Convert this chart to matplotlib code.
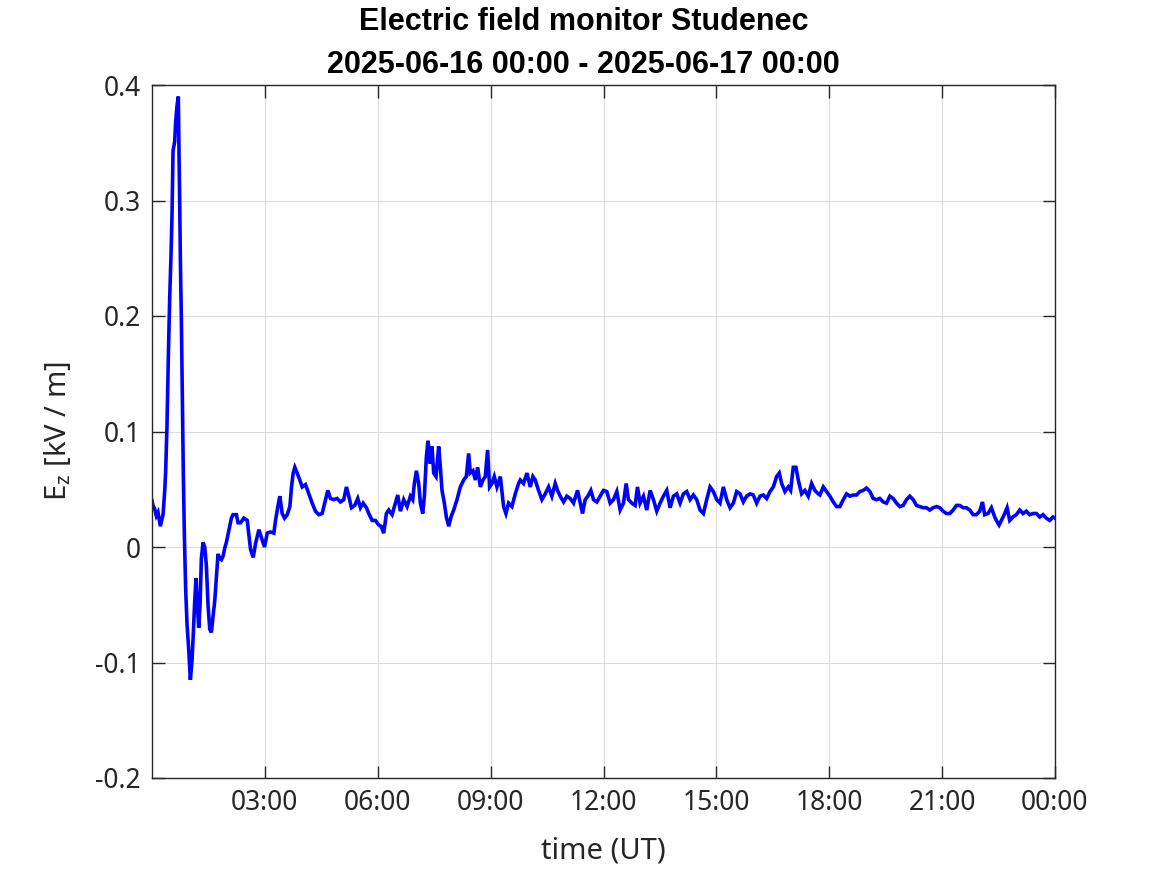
import matplotlib
matplotlib.use("Agg")
import matplotlib.pyplot as plt
import numpy as np

# ---- data (hours UT, Ez in kV/m) ----
hours_a = [0.000, 0.027, 0.071, 0.115, 0.160, 0.222, 0.293, 0.337, 0.363, 0.399,
           0.434, 0.470, 0.505, 0.532, 0.559, 0.603, 0.629, 0.665, 0.700, 0.718,
           0.736, 0.754, 0.780, 0.807, 0.833, 0.860, 0.895, 0.931, 0.975, 1.020,
           1.064, 1.099, 1.135, 1.170, 1.206, 1.241, 1.277, 1.312, 1.356, 1.401,
           1.445, 1.489, 1.534, 1.578, 1.622, 1.667, 1.711, 1.755, 1.800, 1.844,
           1.888, 1.933, 1.977, 2.021, 2.066, 2.110, 2.154, 2.199, 2.243, 2.287]
ez_a = [0.040, 0.036, 0.033, 0.027, 0.030, 0.018, 0.028, 0.048, 0.065, 0.106,
        0.164, 0.215, 0.253, 0.287, 0.343, 0.351, 0.368, 0.382, 0.390, 0.340,
        0.300, 0.249, 0.198, 0.130, 0.062, 0.011, -0.037, -0.067, -0.088, -0.115,
        -0.098, -0.074, -0.047, -0.027, -0.050, -0.070, -0.050, -0.010, 0.004, 0.000,
        -0.016, -0.050, -0.071, -0.074, -0.060, -0.047, -0.027, -0.006, -0.010, -0.011,
        -0.008, -0.001, 0.004, 0.011, 0.018, 0.025, 0.028, 0.028, 0.028, 0.021]

hours_b = [2.354, 2.442, 2.531, 2.619, 2.690, 2.752, 2.841, 2.929, 2.991, 3.062,
           3.150, 3.239, 3.283, 3.345, 3.398, 3.460, 3.522, 3.593, 3.664, 3.708,
           3.752, 3.796, 3.858, 3.929, 3.991, 4.080, 4.168, 4.257, 4.345, 4.434,
           4.522, 4.611, 4.673, 4.743, 4.832, 4.920, 5.009, 5.097, 5.168, 5.230,
           5.301, 5.389, 5.469, 5.540, 5.611, 5.699, 5.761, 5.850, 5.938, 6.027,
           6.088, 6.159, 6.230, 6.292, 6.381, 6.469, 6.531, 6.602, 6.690, 6.779,
           6.867, 6.929, 6.973, 7.027, 7.088, 7.133, 7.195, 7.239, 7.292, 7.336,
           7.398, 7.442, 7.487, 7.549, 7.619, 7.664, 7.708, 7.770, 7.823, 7.885,
           7.947, 8.018, 8.106, 8.195, 8.283, 8.354, 8.416, 8.460, 8.531, 8.593,
           8.655, 8.726, 8.796, 8.858, 8.920, 8.973, 9.035, 9.097, 9.168, 9.257,
           9.345, 9.407, 9.478, 9.566, 9.655, 9.743]
ez_b = [0.021, 0.025, 0.023, -0.002, -0.009, 0.003, 0.015, 0.006, 0.000, 0.012,
        0.013, 0.012, 0.023, 0.035, 0.044, 0.029, 0.025, 0.028, 0.035, 0.052,
        0.064, 0.069, 0.064, 0.058, 0.052, 0.054, 0.046, 0.038, 0.031, 0.028,
        0.029, 0.041, 0.049, 0.042, 0.041, 0.042, 0.039, 0.041, 0.052, 0.044,
        0.034, 0.036, 0.042, 0.034, 0.038, 0.034, 0.029, 0.023, 0.023, 0.019,
        0.018, 0.012, 0.029, 0.032, 0.028, 0.038, 0.045, 0.031, 0.041, 0.035,
        0.044, 0.041, 0.055, 0.066, 0.055, 0.038, 0.029, 0.044, 0.078, 0.092,
        0.072, 0.087, 0.064, 0.061, 0.087, 0.069, 0.049, 0.038, 0.026, 0.018,
        0.026, 0.032, 0.041, 0.052, 0.058, 0.061, 0.081, 0.064, 0.066, 0.058,
        0.069, 0.052, 0.058, 0.061, 0.084, 0.052, 0.055, 0.061, 0.052, 0.061,
        0.035, 0.029, 0.038, 0.035, 0.046, 0.055]

hours_c = [9.788, 9.876, 9.965, 10.053, 10.124, 10.186, 10.274, 10.363, 10.451, 10.540,
           10.628, 10.717, 10.779, 10.850, 10.938, 11.027, 11.115, 11.204, 11.310, 11.381,
           11.442, 11.513, 11.584, 11.664, 11.735, 11.823, 11.912, 12.000, 12.088, 12.177,
           12.265, 12.354, 12.442, 12.531, 12.602, 12.664, 12.752, 12.841, 12.903, 12.973,
           13.062, 13.150, 13.239, 13.327, 13.416, 13.504, 13.593, 13.681, 13.770, 13.858,
           13.947, 14.035, 14.124, 14.212, 14.301, 14.389, 14.478, 14.566, 14.655, 14.743,
           14.832, 14.920, 15.009, 15.097, 15.186, 15.274, 15.363, 15.451, 15.540, 15.628,
           15.717, 15.805, 15.894, 15.982, 16.071, 16.159, 16.248, 16.336, 16.425, 16.513,
           16.602, 16.673, 16.735, 16.823, 16.912, 16.973, 17.044, 17.115, 17.177, 17.265,
           17.354, 17.442, 17.531, 17.619, 17.708]
ez_c = [0.058, 0.055, 0.064, 0.052, 0.061, 0.058, 0.049, 0.041, 0.046, 0.052,
        0.044, 0.055, 0.049, 0.044, 0.039, 0.044, 0.042, 0.038, 0.049, 0.038,
        0.029, 0.041, 0.044, 0.049, 0.041, 0.039, 0.044, 0.049, 0.048, 0.038,
        0.041, 0.048, 0.032, 0.038, 0.055, 0.041, 0.038, 0.036, 0.052, 0.038,
        0.044, 0.032, 0.049, 0.041, 0.031, 0.038, 0.044, 0.049, 0.034, 0.044,
        0.046, 0.038, 0.046, 0.048, 0.041, 0.045, 0.041, 0.032, 0.029, 0.041,
        0.052, 0.048, 0.041, 0.038, 0.052, 0.041, 0.034, 0.038, 0.048, 0.046,
        0.039, 0.044, 0.046, 0.045, 0.038, 0.044, 0.045, 0.042, 0.048, 0.052,
        0.061, 0.064, 0.055, 0.048, 0.052, 0.049, 0.069, 0.069, 0.058, 0.046,
        0.049, 0.044, 0.055, 0.049, 0.046]

hours_d = [17.752, 17.841, 17.929, 18.018, 18.106, 18.195, 18.283, 18.372, 18.460, 18.549,
           18.637, 18.726, 18.814, 18.903, 18.991, 19.080, 19.168, 19.257, 19.345, 19.434,
           19.522, 19.611, 19.699, 19.788, 19.876, 19.965, 20.053, 20.142, 20.230, 20.319,
           20.407, 20.496, 20.584, 20.673, 20.761, 20.850, 20.938, 21.027, 21.115, 21.204,
           21.292, 21.381, 21.469, 21.558, 21.646, 21.735, 21.823, 21.912, 22.000, 22.071,
           22.133, 22.221, 22.310, 22.398, 22.442, 22.513, 22.575, 22.664, 22.726, 22.796,
           22.885, 22.973, 23.062, 23.150, 23.239, 23.327, 23.416, 23.504, 23.593, 23.681,
           23.770, 23.858, 23.947, 24.000]
ez_d = [0.045, 0.052, 0.048, 0.044, 0.039, 0.035, 0.035, 0.041, 0.046, 0.044,
        0.045, 0.045, 0.048, 0.049, 0.051, 0.048, 0.042, 0.041, 0.042, 0.039,
        0.038, 0.044, 0.042, 0.038, 0.035, 0.036, 0.041, 0.044, 0.041, 0.036,
        0.035, 0.034, 0.034, 0.032, 0.034, 0.035, 0.034, 0.031, 0.029, 0.029,
        0.032, 0.036, 0.036, 0.034, 0.034, 0.032, 0.028, 0.028, 0.031, 0.039,
        0.028, 0.029, 0.034, 0.026, 0.023, 0.019, 0.023, 0.029, 0.034, 0.023,
        0.026, 0.028, 0.032, 0.029, 0.031, 0.028, 0.029, 0.029, 0.026, 0.028,
        0.025, 0.023, 0.026, 0.025]

x_ticks = [3, 6, 9, 12, 15, 18, 21, 24]
x_ticklabels = ["03:00", "06:00", "09:00", "12:00", "15:00", "18:00", "21:00", "00:00"]
y_ticks = [-0.2, -0.1, 0, 0.1, 0.2, 0.3, 0.4]
y_ticklabels = ["-0.2", "-0.1", "0", "0.1", "0.2", "0.3", "0.4"]

hours = hours_a + hours_b + hours_c + hours_d
ez = ez_a + ez_b + ez_c + ez_d

plt.rcParams['font.family'] = ['Noto Sans', 'DejaVu Sans']
plt.rcParams['mathtext.fontset'] = 'custom'
plt.rcParams['mathtext.rm'] = 'Noto Sans'
plt.rcParams['mathtext.it'] = 'Noto Sans'

fig = plt.figure(figsize=(11.67, 8.75), dpi=100)
ax = fig.add_axes([152/1167, 1 - 778/875, (1055-152)/1167, (778-85)/875])

ax.plot(hours, ez, color=(0, 0, 1), linewidth=2.6, solid_joinstyle='miter')

ax.set_xlim(0, 24)
ax.set_ylim(-0.2, 0.4)
ax.set_xticks(x_ticks)
ax.set_xticklabels(x_ticklabels)
ax.set_yticks(y_ticks)
ax.set_yticklabels(y_ticklabels)

edge = '#262626'
for s in ax.spines.values():
    s.set_color(edge)
    s.set_linewidth(1.0)
ax.tick_params(direction='in', length=9, width=1.0, color=edge,
               labelsize=19, labelcolor='#262626', top=True, right=True, pad=8)
ax.grid(True, color='#dcdcdc', linewidth=0.8)
ax.set_axisbelow(True)

ax.set_xlabel("time (UT)", fontsize=21, color='#262626', labelpad=14)
ax.set_ylabel(r"E$_{\mathregular{z}}$ [kV / m]", fontsize=21, color='#262626', labelpad=16)

fig.text(0.5, 1 - 22/875, "Electric field monitor Studenec", ha='center', va='center',
         fontsize=22, fontweight='bold', family=['Liberation Sans', 'DejaVu Sans'])
fig.text(0.5, 1 - 65/875, "2025-06-16 00:00 - 2025-06-17 00:00", ha='center', va='center',
         fontsize=22, fontweight='bold', family=['Liberation Sans', 'DejaVu Sans'])

fig.savefig("out.png", dpi=100)
